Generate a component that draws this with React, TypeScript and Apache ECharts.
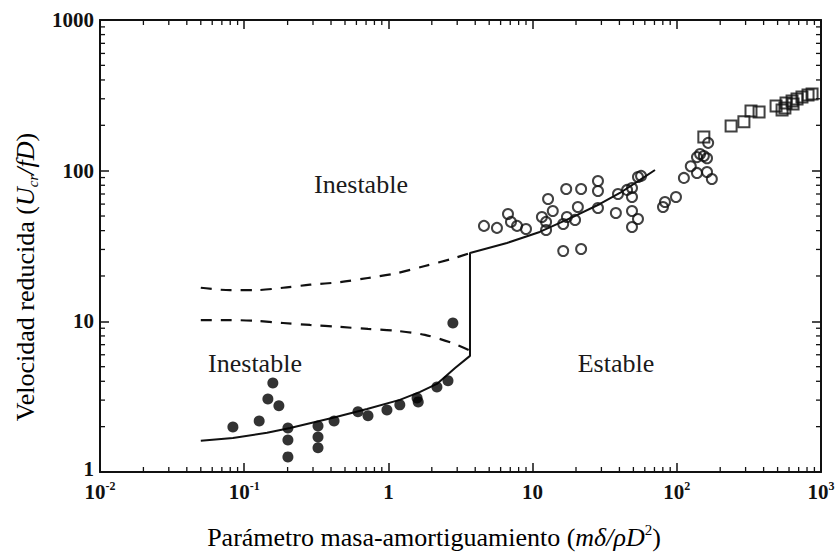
import React, { useEffect, useRef } from "react";
import * as echarts from "echarts";

const X_MIN = 0.01;
const X_MAX = 1000;
const Y_MIN = 1;
const Y_MAX = 1000;

const X_MINOR_TICKS = [
  0.02, 0.03, 0.04, 0.05, 0.06, 0.07, 0.08, 0.09,
  0.2, 0.3, 0.4, 0.5, 0.6, 0.7, 0.8, 0.9,
  2, 3, 4, 5, 6, 7, 8, 9,
  20, 30, 40, 50, 60, 70, 80, 90,
  200, 300, 400, 500, 600, 700, 800, 900,
];
const Y_MINOR_TICKS = [
  2, 3, 4, 5, 6, 7, 8, 9,
  20, 30, 40, 50, 60, 70, 80, 90,
  200, 300, 400, 500, 600, 700, 800, 900,
];

// Filled dots
const FILLED_X = [0.0835, 0.127, 0.158, 0.146, 0.174, 0.201, 0.201, 0.201, 0.325, 0.325, 0.325, 0.42, 0.615, 0.722, 0.977, 1.2, 1.58, 1.61, 2.17, 2.59, 2.8];
const FILLED_Y = [1.99, 2.18, 3.9, 3.05, 2.75, 1.96, 1.63, 1.26, 2.02, 1.71, 1.45, 2.18, 2.51, 2.36, 2.58, 2.79, 3.1, 2.92, 3.67, 4.03, 9.76];

// Open circles
const OPEN_X = [4.6, 5.66, 6.75, 7.08, 7.8, 9.0, 11.6, 12.4, 12.4, 12.8, 13.8, 16.3, 17.1, 17.3, 19.7, 20.6, 21.7, 28.4, 28.4, 28.4, 37.8, 39.1, 45.2, 48.9, 48.9, 48.9, 53.8, 48.9, 53.8, 56.5, 16.3, 21.7, 80.2, 82.8, 98.7, 112, 125, 138, 138, 145, 154, 162, 165, 162, 175];
const OPEN_Y = [43.0, 41.7, 51.6, 45.7, 43.0, 41.0, 49.3, 45.7, 40.4, 64.9, 54.0, 44.3, 75.6, 49.3, 47.1, 57.4, 75.6, 85.4, 73.3, 56.5, 52.4, 70.0, 74.5, 76.7, 66.9, 54.0, 47.8, 42.3, 90.8, 92.3, 29.3, 30.2, 57.4, 62.0, 66.9, 89.5, 107, 96.6, 123, 129, 125, 121, 153, 98.0, 88.1];

// Open squares
const SQUARE_X = [154, 238, 292, 327, 372, 488, 537, 572, 630, 682, 738, 813, 867, 562, 640];
const SQUARE_Y = [167, 198, 211, 249, 245, 269, 253, 281, 290, 299, 308, 318, 323, 261, 277];

// Solid boundary: lower branch, vertical jump, upper branch
const SOLID_X = [0.05, 0.0835, 0.144, 0.208, 0.413, 0.711, 1.2, 1.66, 2.17, 2.9, 3.68, 3.68, 6.64, 11.2, 19.1, 29.3, 40.3, 55.6, 70.6];
const SOLID_Y = [1.61, 1.68, 1.82, 1.96, 2.29, 2.62, 3.01, 3.4, 3.84, 4.9, 5.9, 28.4, 33.1, 39.2, 49.3, 60.1, 71.1, 86.8, 101];

// Dashed boundaries
const DASH_X = [0.05, 0.0797, 0.119, 0.186, 0.286, 0.461, 0.722, 1.15, 1.79, 2.76, 3.68];
const DASH_UPPER_Y = [16.7, 16.1, 16.1, 16.7, 17.5, 18.2, 19.4, 20.9, 23.3, 26.0, 28.4];
const DASH_LOWER_Y = [10.2, 10.2, 10.07, 9.75, 9.46, 9.18, 8.91, 8.64, 8.13, 7.19, 6.4];

const FONT = "Liberation Serif";
const INK = "#111";

const zip = (xs: number[], ys: number[]) => xs.map((x, i) => [x, ys[i]]);

export default function App() {
  const ref = useRef<HTMLDivElement>(null);

  useEffect(() => {
    document.body.style.margin = "0";
    if (!ref.current) return;
    const chart = echarts.init(ref.current, null, { renderer: "svg" });

    const baseLabel = { fontFamily: FONT, fontSize: 21, fontWeight: "bold" as const, color: INK };

    const xAxisCommon = {
      type: "log" as const,
      logBase: 10,
      min: X_MIN,
      max: X_MAX,
      axisLine: { show: true, onZero: false, lineStyle: { color: INK, width: 2 } },
      axisTick: { show: true, inside: true, length: 9, lineStyle: { color: INK, width: 1.5 } },
      splitLine: { show: false },
      minorTick: { show: false },
    };
    const yAxisCommon = {
      type: "log" as const,
      logBase: 10,
      min: Y_MIN,
      max: Y_MAX,
      axisLine: { show: true, onZero: false, lineStyle: { color: INK, width: 2 } },
      axisTick: { show: true, inside: true, length: 9, lineStyle: { color: INK, width: 1.5 } },
      splitLine: { show: false },
      minorTick: { show: false },
    };

    const option: any = {
      animation: false,
      backgroundColor: "#fff",
      textStyle: { fontFamily: FONT },
      grid: { left: 100, right: 17, top: 20, bottom: 80, containLabel: false, outerBoundsMode: "none" },
      xAxis: [
        {
          ...xAxisCommon,
          position: "bottom",
          axisLabel: {
            show: true,
            margin: 8,
            fontFamily: FONT,
            formatter: (v: number) => {
              const e = Math.round(Math.log10(v));
              if (e === 0) return "{b|1}";
              if (e === 1) return "{b|10}";
              return `{b|10}{s|${e}}`;
            },
            rich: {
              b: { ...baseLabel, lineHeight: 24 },
              s: { fontFamily: FONT, fontSize: 12, fontWeight: "bold", color: INK, lineHeight: 12, verticalAlign: "top" },
            },
          },
        },
        {
          ...xAxisCommon,
          position: "top",
          axisLabel: { show: false },
        },
      ],
      yAxis: [
        {
          ...yAxisCommon,
          position: "left",
          axisLabel: {
            show: true,
            margin: 6,
            ...baseLabel,
            formatter: (v: number) => {
              const n = Math.round(v);
              return n === 1 ? "{one|1}" : `{n|${n}}`;
            },
            rich: {
              n: { ...baseLabel },
              one: { ...baseLabel, padding: [0, 0, 6, 0] },
            },
          },
        },
        {
          ...yAxisCommon,
          position: "right",
          axisLabel: { show: false },
        },
      ],
      graphic: [
        {
          type: "text",
          x: 434,
          y: 537,
          style: {
            text: "{n|Parámetro masa-amortiguamiento (}{i|mδ/ρD}{s|2}{n|)}",
            align: "center",
            verticalAlign: "middle",
            fontFamily: FONT,
            rich: {
              n: { fontFamily: FONT, fontSize: 26, color: INK, lineHeight: 30 },
              i: { fontFamily: FONT, fontSize: 26, fontStyle: "italic", color: INK, lineHeight: 30 },
              s: { fontFamily: FONT, fontSize: 15, color: INK, lineHeight: 15, verticalAlign: "top" },
            },
          },
        },
        {
          type: "text",
          x: 25,
          y: 277,
          rotation: Math.PI / 2,
          style: {
            text: "{n|Velocidad reducida (}{i|U}{sub|cr}{i|/fD}{n|)}",
            align: "center",
            verticalAlign: "middle",
            fontFamily: FONT,
            rich: {
              n: { fontFamily: FONT, fontSize: 26, color: INK, lineHeight: 30 },
              i: { fontFamily: FONT, fontSize: 26, fontStyle: "italic", color: INK, lineHeight: 30 },
              sub: { fontFamily: FONT, fontSize: 15, fontStyle: "italic", color: INK, lineHeight: 15, verticalAlign: "bottom" },
            },
          },
        },
        {
          type: "text",
          x: 361,
          y: 184,
          style: { text: "Inestable", fontFamily: FONT, fontSize: 26, fill: "#1a1a1a", align: "center", verticalAlign: "middle" },
        },
        {
          type: "text",
          x: 255,
          y: 363,
          style: { text: "Inestable", fontFamily: FONT, fontSize: 26, fill: "#1a1a1a", align: "center", verticalAlign: "middle" },
        },
        {
          type: "text",
          x: 616,
          y: 363,
          style: { text: "Estable", fontFamily: FONT, fontSize: 26, fill: "#1a1a1a", align: "center", verticalAlign: "middle" },
        },
      ],
      series: [
        {
          type: "custom",
          name: "xMinor",
          xAxisIndex: 0,
          yAxisIndex: 0,
          silent: true,
          data: X_MINOR_TICKS.map((v) => [v, Y_MIN]),
          renderItem: (params: any, api: any) => {
            const v = api.value(0);
            const b = api.coord([v, Y_MIN]);
            const t = api.coord([v, Y_MAX]);
            const style = { stroke: INK, lineWidth: 1.3 };
            return {
              type: "group",
              children: [
                { type: "line", shape: { x1: b[0], y1: b[1], x2: b[0], y2: b[1] - 5 }, style },
                { type: "line", shape: { x1: t[0], y1: t[1], x2: t[0], y2: t[1] + 5 }, style },
              ],
            };
          },
        },
        {
          type: "custom",
          name: "yMinor",
          xAxisIndex: 0,
          yAxisIndex: 0,
          silent: true,
          data: Y_MINOR_TICKS.map((v) => [X_MIN, v]),
          renderItem: (params: any, api: any) => {
            const v = api.value(1);
            const l = api.coord([X_MIN, v]);
            const r = api.coord([X_MAX, v]);
            const style = { stroke: INK, lineWidth: 1.3 };
            return {
              type: "group",
              children: [
                { type: "line", shape: { x1: l[0], y1: l[1], x2: l[0] + 5, y2: l[1] }, style },
                { type: "line", shape: { x1: r[0], y1: r[1], x2: r[0] - 5, y2: r[1] }, style },
              ],
            };
          },
        },
        {
          type: "line",
          name: "solid",
          data: zip(SOLID_X, SOLID_Y),
          showSymbol: false,
          symbol: "none",
          lineStyle: { color: INK, width: 2 },
          z: 3,
        },
        {
          type: "line",
          name: "dashUpper",
          data: zip(DASH_X, DASH_UPPER_Y),
          showSymbol: false,
          symbol: "none",
          smooth: 0.3,
          lineStyle: { color: INK, width: 2.2, type: [11, 9] },
          z: 3,
        },
        {
          type: "line",
          name: "dashLower",
          data: zip(DASH_X, DASH_LOWER_Y),
          showSymbol: false,
          symbol: "none",
          smooth: 0.3,
          lineStyle: { color: INK, width: 2.2, type: [11, 9] },
          z: 3,
        },
        {
          type: "scatter",
          name: "filled",
          data: zip(FILLED_X, FILLED_Y),
          symbol: "circle",
          symbolSize: 11,
          itemStyle: { color: "#000" },
          z: 4,
        },
        {
          type: "scatter",
          name: "open",
          data: zip(OPEN_X, OPEN_Y),
          symbol: "circle",
          symbolSize: 10,
          itemStyle: { color: "rgba(255,255,255,0)", borderColor: INK, borderWidth: 2 },
          z: 4,
        },
        {
          type: "scatter",
          name: "squares",
          data: zip(SQUARE_X, SQUARE_Y),
          symbol: "rect",
          symbolSize: 11,
          itemStyle: { color: "rgba(255,255,255,0)", borderColor: INK, borderWidth: 2 },
          z: 4,
        },
      ],
    };

    chart.setOption(option);
    return () => chart.dispose();
  }, []);

  return <div ref={ref} style={{ width: 838, height: 552 }} />;
}
